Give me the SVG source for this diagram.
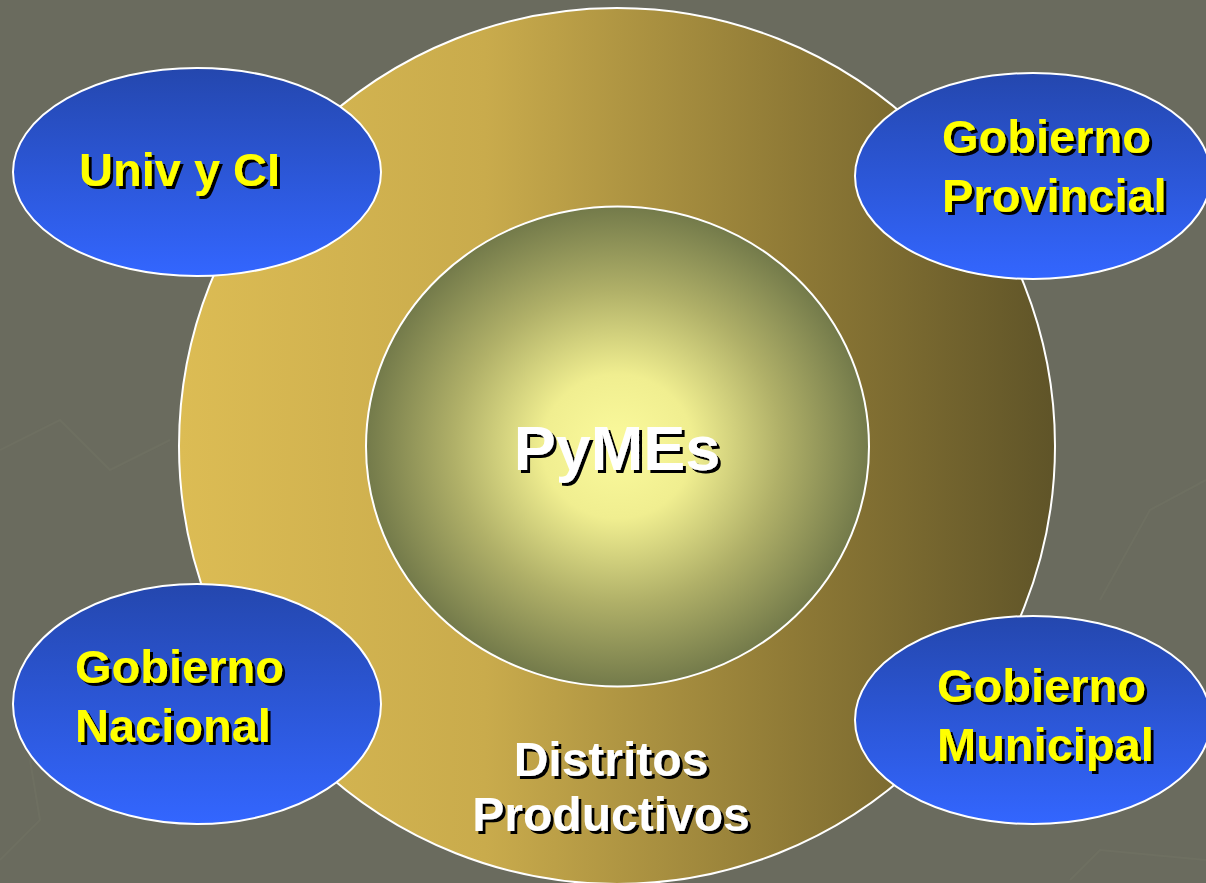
<svg xmlns="http://www.w3.org/2000/svg" width="1206" height="883" viewBox="0 0 1206 883">
<defs>
<linearGradient id="gOuter" x1="0" y1="0" x2="1" y2="0">
<stop offset="0" stop-color="#dcbc54"/>
<stop offset="0.35" stop-color="#c9ab4c"/>
<stop offset="0.7" stop-color="#8f7a36"/>
<stop offset="1" stop-color="#5f5428"/>
</linearGradient>
<radialGradient id="gInner" cx="0.5" cy="0.5" r="0.5">
<stop offset="0" stop-color="#fbfa9c"/>
<stop offset="0.3" stop-color="#f0ee90"/>
<stop offset="0.65" stop-color="#b0b068"/>
<stop offset="1" stop-color="#737a4a"/>
</radialGradient>
<linearGradient id="gBlue" x1="0" y1="0" x2="0" y2="1">
<stop offset="0" stop-color="#2447ae"/>
<stop offset="1" stop-color="#3366ff"/>
</linearGradient>
<filter id="sh" x="-10%" y="-20%" width="130%" height="150%">
<feDropShadow dx="3" dy="3" stdDeviation="0.4" flood-color="#000" flood-opacity="1"/>
</filter>
</defs>
<style>
.node{fill:url(#gBlue);stroke:#fff;stroke-width:2}
.lbl{font-family:"Liberation Sans",Arial,sans-serif;font-weight:bold;font-size:47px;fill:#ffff00;filter:url(#sh)}
.wl{font-family:"Liberation Sans",Arial,sans-serif;font-weight:bold;fill:#fff;filter:url(#sh)}
.bgl{fill:none;stroke:#767868;stroke-width:2;opacity:0.35}
</style>
<rect width="1206" height="883" fill="#6a6b5e"/>
<g id="background-lines">
<path class="bgl" d="M0 450 L60 420 L110 470 L170 440"/>
<path class="bgl" d="M0 860 L40 820 L30 760"/>
<path class="bgl" d="M1206 480 L1150 510 L1100 600"/>
<path class="bgl" d="M1070 880 L1100 850 L1206 860"/>
</g>
<g id="distritos">
<circle cx="617" cy="446" r="438" fill="url(#gOuter)" stroke="#fff" stroke-width="2"/>
<text class="wl" font-size="48" text-anchor="middle" x="611" y="776">Distritos</text>
<text class="wl" font-size="48" text-anchor="middle" x="611" y="831">Productivos</text>
</g>
<g id="pymes">
<ellipse cx="617.5" cy="446.5" rx="251.5" ry="240" fill="url(#gInner)" stroke="#fff" stroke-width="2"/>
<text class="wl" font-size="63" text-anchor="middle" x="617" y="470">PyMEs</text>
</g>
<g id="connectors"></g>
<g id="univ">
<ellipse class="node" cx="197" cy="172" rx="184" ry="104"/>
<text class="lbl" x="79" y="186">Univ y CI</text>
</g>
<g id="provincial">
<ellipse class="node" cx="1033" cy="176" rx="178" ry="103"/>
<text class="lbl" x="942" y="153">Gobierno</text>
<text class="lbl" x="942" y="212">Provincial</text>
</g>
<g id="nacional">
<ellipse class="node" cx="197" cy="704" rx="184" ry="120"/>
<text class="lbl" x="75" y="683">Gobierno</text>
<text class="lbl" x="75" y="742">Nacional</text>
</g>
<g id="municipal">
<ellipse class="node" cx="1033" cy="720" rx="178" ry="104"/>
<text class="lbl" x="937" y="702">Gobierno</text>
<text class="lbl" x="937" y="761">Municipal</text>
</g>
</svg>
